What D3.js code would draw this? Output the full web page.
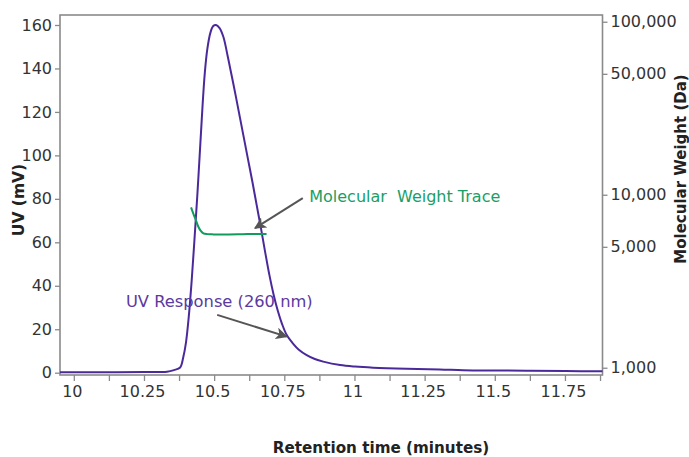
<!DOCTYPE html>
<html>
<head>
<meta charset="utf-8">
<script src="https://cdn.jsdelivr.net/npm/d3@7"></script>
<style>
  html, body { margin: 0; padding: 0; background: #fff; }
  svg { display: block; font-family: "DejaVu Sans", Verdana, sans-serif; }
</style>
</head>
<body>
<svg id="chart" width="689" height="457"></svg>
<script>
// ---- data ----
const retentionTime = [9.949, 10.1, 10.25, 10.33, 10.355, 10.377, 10.388, 10.398, 10.408, 10.418, 10.428, 10.438, 10.448, 10.457, 10.465, 10.474, 10.485, 10.495, 10.505, 10.517, 10.531, 10.546, 10.561, 10.575, 10.59, 10.605, 10.62, 10.635, 10.65, 10.665, 10.68, 10.695, 10.71, 10.725, 10.74, 10.757, 10.78, 10.8, 10.828, 10.857, 10.887, 10.947, 11.0, 11.065, 11.184, 11.302, 11.386, 11.5, 11.623, 11.75, 11.882];
const uvResponse = [0.2, 0.25, 0.3, 0.45, 1.2, 2.4, 7, 14, 26, 42, 61, 81, 103, 123, 138, 149, 156.5, 159.5, 160, 158.7, 154.6, 146, 136.5, 127.5, 117.5, 107.5, 97.5, 87.5, 77, 66.5, 55.5, 45, 36, 28.5, 22.5, 17.3, 13.3, 10.6, 8.1, 6.3, 5.1, 3.5, 2.8, 2.3, 1.8, 1.5, 1.15, 1.0, 0.9, 0.75, 0.65];

const mwTime = [10.416, 10.425, 10.435, 10.442, 10.45, 10.46, 10.475, 10.495, 10.55, 10.6, 10.65, 10.685];
const mwValue = [8450, 7700, 7000, 6530, 6200, 5980, 5920, 5900, 5900, 5920, 5930, 5930];

const xTicksMajor = [10, 10.25, 10.5, 10.75, 11, 11.25, 11.5, 11.75];
const xTickLabels = ["10", "10.25", "10.5", "10.75", "11", "11.25", "11.5", "11.75"];
const xTicksAll = [10, 10.125, 10.25, 10.375, 10.5, 10.625, 10.75, 10.875, 11, 11.125, 11.25, 11.375, 11.5, 11.625, 11.75, 11.875];
const yLeftTicks = [0, 20, 40, 60, 80, 100, 120, 140, 160];
const yRightTicks = [1000, 5000, 10000, 50000, 100000];
const yRightLabels = ["1,000", "5,000", "10,000", "50,000", "100,000"];

const annotations = [
  { text: "Molecular  Weight Trace", t: 10.837, v: 78.7, from: [10.814, 80.3], to: [10.644, 66.5], color: "#1a9e66", size: 16 },
  { text: "UV Response (260 nm)", t: 10.184, v: 30.4, from: [10.509, 26.6], to: [10.757, 16.6], color: "#5b3aa0", size: 16.3 }
];

// ---- layout ----
const mLeft = 60, mRight = 602.5, mTop = 15, mBottom = 375;
const svg = d3.select("#chart");

const x = d3.scaleLinear().domain([9.949, 11.882]).range([mLeft, mRight]);
const yL = d3.scaleLinear().domain([-1.06, 164.6]).range([mBottom, mTop]);
const yR = d3.scaleLog().domain([907.8, 109400]).range([mBottom, mTop]);

const axisColor = "#8a8a8a";
const textColor = "#333";
const tickFont = 16;

// defs: arrow marker
svg.append("defs").append("marker")
  .attr("id", "arrow")
  .attr("viewBox", "0 0 10 10")
  .attr("refX", 9).attr("refY", 5)
  .attr("markerWidth", 6).attr("markerHeight", 6)
  .attr("markerUnits", "strokeWidth")
  .attr("orient", "auto")
  .append("path").attr("d", "M0,0 L10,5 L0,10 L2.5,5 Z").attr("fill", "#555");

// frame
svg.append("rect")
  .attr("x", mLeft).attr("y", mTop)
  .attr("width", mRight - mLeft).attr("height", mBottom - mTop)
  .attr("fill", "none").attr("stroke", axisColor).attr("stroke-width", 1.6);

// bottom axis (ticks)
const gx = svg.append("g").attr("transform", `translate(0,${mBottom})`);
gx.selectAll("line.tick").data(xTicksAll).enter().append("line")
  .attr("x1", d => x(d)).attr("x2", d => x(d))
  .attr("y1", 0).attr("y2", 6)
  .attr("stroke", axisColor).attr("stroke-width", 1.3);
gx.selectAll("text").data(xTicksMajor).enter().append("text")
  .attr("x", d => x(d) - 2).attr("y", 22)
  .attr("text-anchor", "middle")
  .attr("font-size", tickFont).attr("fill", textColor)
  .text((d, i) => xTickLabels[i]);

// left axis
const gl = svg.append("g").attr("transform", `translate(${mLeft},0)`);
gl.call(d3.axisLeft(yL).tickValues(yLeftTicks).tickSize(5).tickPadding(3).tickFormat(d3.format("d")));
gl.select(".domain").remove();
gl.selectAll(".tick line").attr("stroke", axisColor).attr("stroke-width", 1.3);
gl.selectAll(".tick text").attr("font-size", tickFont).attr("fill", textColor).attr("font-family", "DejaVu Sans, Verdana, sans-serif");

// right axis
const gr = svg.append("g").attr("transform", `translate(${mRight},0)`);
gr.call(d3.axisRight(yR).tickValues(yRightTicks).tickSize(5).tickPadding(3)
  .tickFormat((d) => yRightLabels[yRightTicks.indexOf(d)]));
gr.select(".domain").remove();
gr.selectAll(".tick line").attr("stroke", axisColor).attr("stroke-width", 1.3);
gr.selectAll(".tick text").attr("font-size", tickFont).attr("fill", textColor).attr("font-family", "DejaVu Sans, Verdana, sans-serif");

// axis titles
svg.append("text")
  .attr("transform", `translate(24,${(mTop + mBottom) / 2 + 5}) rotate(-90)`)
  .attr("text-anchor", "middle").attr("font-weight", "bold")
  .attr("font-size", 15.5).attr("fill", "#222")
  .text("UV (mV)");
svg.append("text")
  .attr("transform", `translate(686,169) rotate(-90)`)
  .attr("text-anchor", "middle").attr("font-weight", "bold")
  .attr("font-size", 15).attr("fill", "#222")
  .text("Molecular Weight (Da)");
svg.append("text")
  .attr("x", 381).attr("y", 453)
  .attr("text-anchor", "middle").attr("font-weight", "bold")
  .attr("font-size", 15.2).attr("fill", "#222")
  .text("Retention time (minutes)");

// UV line
const uvData = retentionTime.map((t, i) => ({ t, v: uvResponse[i] }));
svg.append("path")
  .datum(uvData)
  .attr("fill", "none").attr("stroke", "#4a2a9b").attr("stroke-width", 2)
  .attr("d", d3.line().x(d => x(d.t)).y(d => yL(d.v)).curve(d3.curveCatmullRom.alpha(0.5)));

// MW line
const mwData = mwTime.map((t, i) => ({ t, v: mwValue[i] }));
svg.append("path")
  .datum(mwData)
  .attr("fill", "none").attr("stroke", "#119c5e").attr("stroke-width", 2)
  .attr("d", d3.line().x(d => x(d.t)).y(d => yR(d.v)).curve(d3.curveCatmullRom.alpha(0.5)));

// annotations
annotations.forEach(a => {
  svg.append("text")
    .attr("x", x(a.t)).attr("y", yL(a.v))
    .attr("font-size", a.size).attr("fill", a.color)
    .attr("xml:space", "preserve").style("white-space", "pre")
    .text(a.text);
  svg.append("line")
    .attr("x1", x(a.from[0])).attr("y1", yL(a.from[1]))
    .attr("x2", x(a.to[0])).attr("y2", yL(a.to[1]))
    .attr("stroke", "#555").attr("stroke-width", 2)
    .attr("marker-end", "url(#arrow)");
});
</script>
</body>
</html>
